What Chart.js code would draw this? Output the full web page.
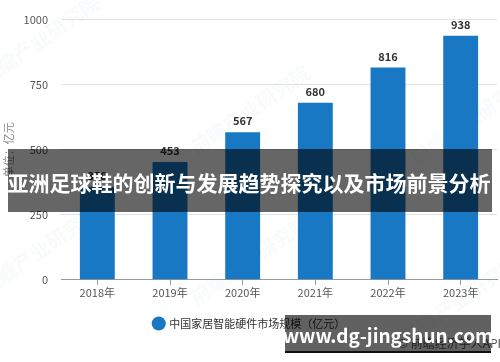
<!DOCTYPE html>
<html>
<head>
<meta charset="utf-8">
<script src="https://cdn.jsdelivr.net/npm/chart.js@4/dist/chart.umd.min.js"></script>
<style>
  html, body { margin: 0; padding: 0; background: #fff; }
  #wrap { width: 500px; height: 362px; position: relative; }
</style>
</head>
<body>
<div id="wrap"><canvas id="chart" width="500" height="362"></canvas></div>
<script>
// Data
const years = ['2018年', '2019年', '2020年', '2021年', '2022年', '2023年'];
const marketSize = [358, 453, 567, 680, 816, 938];
const seriesName = '中国家居智能硬件市场规模（亿元）';
const yTicks = [0, 250, 500, 750, 1000];
const bannerTitle = '亚洲足球鞋的创新与发展趋势探究以及市场前景分析';
const siteMark = 'www.dg-jingshun.com';

const FONT = '"Noto Sans CJK SC", "Noto Sans", sans-serif';

// faint watermark text behind the bars
const watermarkPlugin = {
    id: 'watermark',
    beforeDatasetsDraw(chart) {
        const ctx = chart.ctx;
        const marks = [[40, 40], [250, 110], [470, 120], [40, 250], [250, 260], [460, 300]];
        ctx.save();
        ctx.fillStyle = 'rgba(160, 170, 185, 0.06)';
        ctx.font = 'bold 20px ' + FONT;
        marks.forEach(([x, y]) => {
            ctx.save();
            ctx.translate(x, y);
            ctx.rotate(-0.6);
            ctx.textAlign = 'center';
            ctx.fillText('前瞻产业研究院', 0, 0);
            ctx.restore();
        });
        ctx.restore();
    }
};

// value labels above the bars
const valueLabels = {
    id: 'valueLabels',
    afterDatasetsDraw(chart) {
        const ctx = chart.ctx;
        const meta = chart.getDatasetMeta(0);
        ctx.save();
        ctx.font = 'bold 11px ' + FONT;
        ctx.fillStyle = '#333';
        ctx.textAlign = 'center';
        ctx.textBaseline = 'middle';
        meta.data.forEach((bar, i) => {
            ctx.fillText(String(marketSize[i]), bar.x, bar.y - 11);
        });
        ctx.restore();
    }
};

// dark banner and site stamp on top of everything
const overlays = {
    id: 'overlays',
    afterDraw(chart) {
        const ctx = chart.ctx;
        ctx.save();
        // source note, mostly hidden under the stamp
        ctx.fillStyle = '#555';
        ctx.font = '12px ' + FONT;
        ctx.textAlign = 'left';
        ctx.textBaseline = 'middle';
        ctx.fillText('© 前瞻经济学人APP', 398, 343);

        // title banner
        ctx.fillStyle = 'rgba(0, 0, 0, 0.6)';
        ctx.fillRect(8, 149, 484, 63);
        ctx.fillStyle = '#fff';
        ctx.font = 'bold 21px ' + FONT;
        ctx.textAlign = 'center';
        ctx.fillText(bannerTitle, 249, 183);

        // site stamp
        ctx.fillStyle = 'rgba(0, 0, 0, 0.62)';
        ctx.fillRect(285, 315, 206, 37);
        ctx.fillStyle = '#111';
        ctx.fillRect(285, 351, 206, 2);
        ctx.fillStyle = '#fff';
        ctx.font = 'bold 19px ' + FONT;
        ctx.fillText(siteMark, 388, 336);
        ctx.restore();
    }
};

new Chart(document.getElementById('chart'), {
    type: 'bar',
    data: {
        labels: years,
        datasets: [{
            label: seriesName,
            data: marketSize,
            backgroundColor: '#1878c4',
            barPercentage: 0.48,
            categoryPercentage: 1.0
        }]
    },
    options: {
        responsive: false,
        animation: false,
        devicePixelRatio: 1,
        layout: { padding: { top: 19, right: 3, bottom: 23, left: 2 } },
        plugins: {
            tooltip: { enabled: false },
            legend: {
                position: 'bottom',
                labels: {
                    usePointStyle: true,
                    pointStyle: 'circle',
                    boxWidth: 10,
                    boxHeight: 10,
                    padding: 18,
                    color: '#333',
                    font: { family: FONT, size: 11 }
                }
            }
        },
        scales: {
            x: {
                grid: {
                    display: true,
                    drawOnChartArea: false,
                    offset: false,
                    tickLength: 5,
                    tickColor: '#999'
                },
                border: { color: '#999' },
                ticks: { color: '#555', font: { family: FONT, size: 11 }, padding: 1 }
            },
            y: {
                min: 0,
                max: 1000,
                afterBuildTicks(axis) {
                    axis.ticks = yTicks.map(v => ({ value: v }));
                },
                afterFit(axis) { axis.width = 59; },
                grid: { color: '#e2e2e2', drawTicks: false },
                border: { display: false },
                ticks: {
                    color: '#555',
                    font: { family: FONT, size: 11 },
                    padding: 13,
                    callback: v => String(v)
                },
                title: {
                    display: true,
                    text: '单位：亿元',
                    color: '#888',
                    font: { family: FONT, size: 11 },
                    padding: 0
                }
            }
        }
    },
    plugins: [watermarkPlugin, valueLabels, overlays]
});
</script>
</body>
</html>
